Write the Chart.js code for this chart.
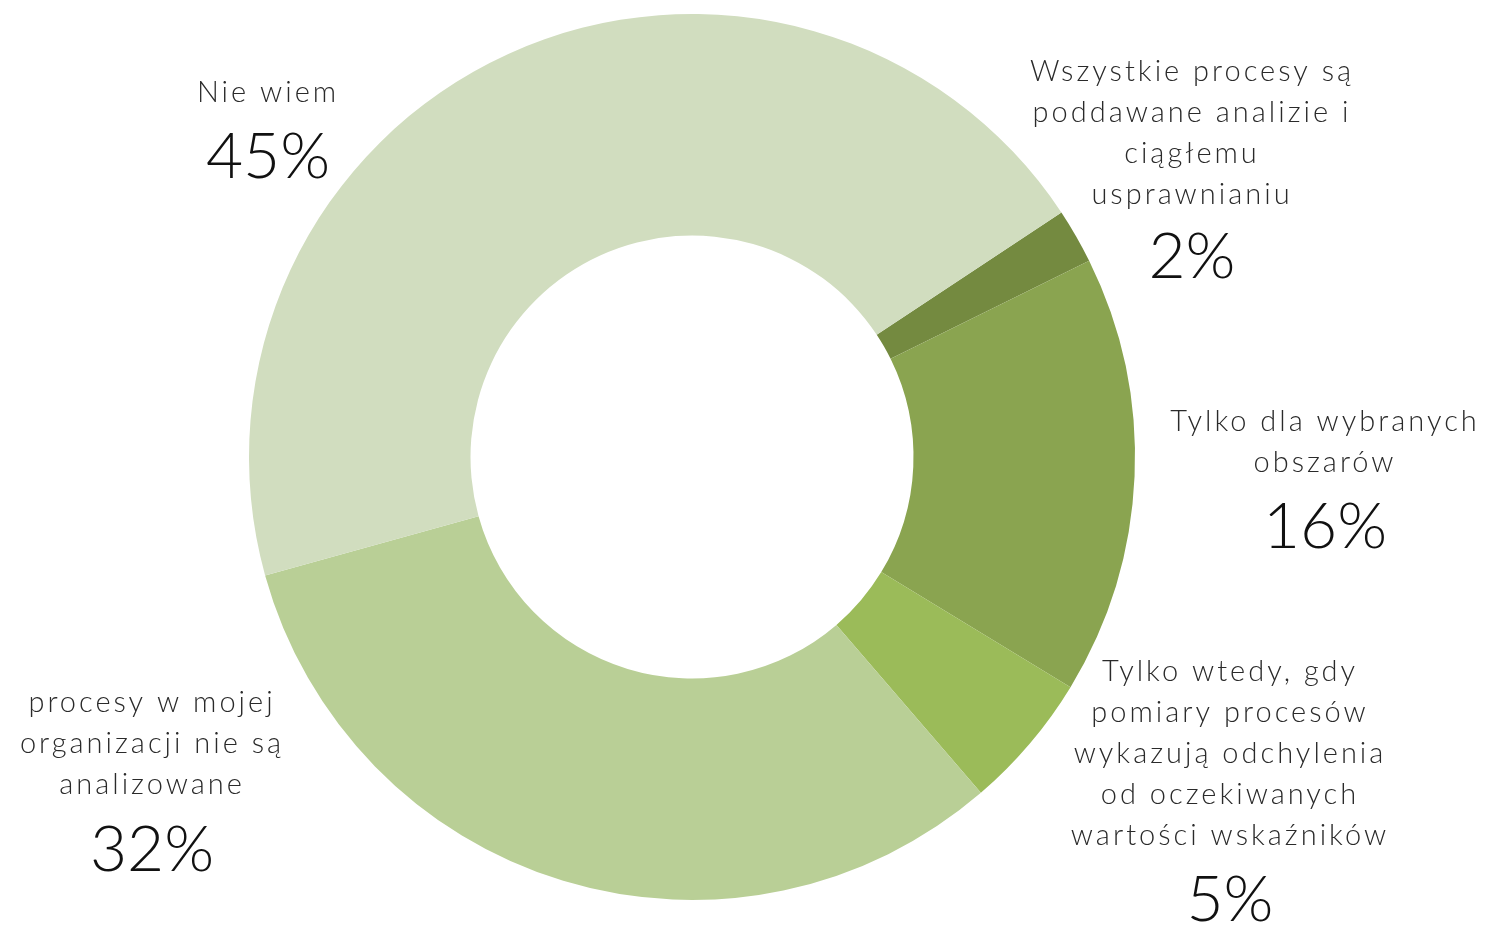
<!DOCTYPE html>
<html>
<head>
<meta charset="utf-8">
<script src="https://cdn.jsdelivr.net/npm/chart.js@4"></script>
<style>
  html, body { margin: 0; padding: 0; background: #fff; }
  #wrap { width: 1491px; height: 927px; position: relative; }
</style>
</head>
<body>
<div id="wrap"><canvas id="myChart"></canvas></div>
<script>
// dane wykresu
var categories = [
  ['Wszystkie procesy są', 'poddawane analizie i', 'ciągłemu', 'usprawnianiu'],
  ['Tylko dla wybranych', 'obszarów'],
  ['Tylko wtedy, gdy', 'pomiary procesów', 'wykazują odchylenia', 'od oczekiwanych', 'wartości wskaźników'],
  ['procesy w mojej', 'organizacji nie są', 'analizowane'],
  ['Nie wiem']
];
var values = [2, 16, 5, 32, 45];
var colors = ['#748a40', '#8aa450', '#9bbb59', '#b9cf96', '#d1ddbf'];

// pozycje etykiet (środek tekstu)
var labelPos = [
  {x: 1192, y: 72, py: 257},
  {x: 1325, y: 422, py: 527},
  {x: 1230, y: 672, py: 900},
  {x: 152, y: 703, py: 850},
  {x: 268, y: 93, py: 157}
];

var labelPlugin = {
  id: 'labelPlugin',
  afterDraw: function(chart) {
    var ctx = chart.ctx;
    ctx.save();
    ctx.textAlign = 'center';
    ctx.textBaseline = 'middle';
    categories.forEach(function(lines, i) {
      var p = labelPos[i];
      ctx.fillStyle = '#2a2a2a';
      ctx.font = '300 29px Lato';
      ctx.letterSpacing = '3px';
      lines.forEach(function(line, j) {
        ctx.fillText(line, p.x, p.y + j * 41);
      });
      ctx.fillStyle = '#111';
      ctx.font = '300 64px Lato';
      ctx.letterSpacing = '0px';
      ctx.fillText(values[i] + '%', p.x, p.py);
    });
    ctx.restore();
  }
};

var ctx = document.getElementById('myChart');
new Chart(ctx, {
  type: 'doughnut',
  data: {
    labels: categories.map(function(c) { return c.join(' '); }),
    datasets: [{
      data: values,
      backgroundColor: colors,
      borderWidth: 0
    }]
  },
  options: {
    responsive: true,
    maintainAspectRatio: false,
    animation: false,
    rotation: 56.5,
    cutout: '50%',
    layout: { padding: { left: 249, right: 356, top: 14, bottom: 27 } },
    plugins: {
      legend: { display: false },
      tooltip: { enabled: false }
    }
  },
  plugins: [labelPlugin]
});
</script>
</body>
</html>
